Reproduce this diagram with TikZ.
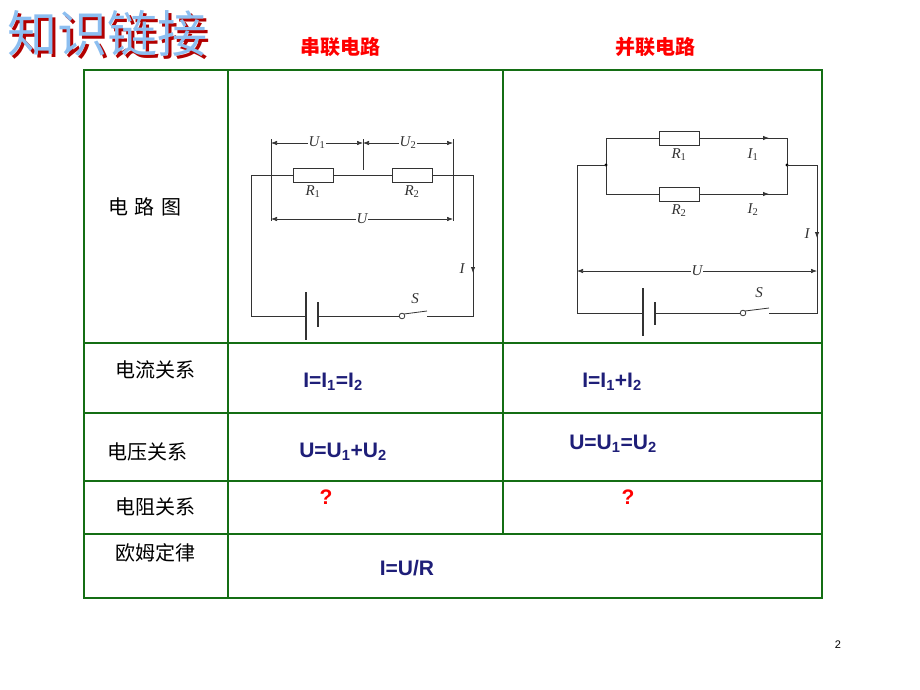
\documentclass[tikz,border=0pt]{standalone}
\usepackage{fontspec}
\setmainfont{Liberation Sans}
\newfontfamily\cjk{Noto Sans CJK SC}
\newfontfamily\serifit{Liberation Serif}[ItalicFont=* Italic]
\usetikzlibrary{arrows.meta}
\definecolor{gridgreen}{RGB}{20,110,20}
\definecolor{navy}{RGB}{30,30,120}
\definecolor{titleblue}{RGB}{140,190,240}
\tikzset{
  grid/.style={gridgreen, line width=2.2pt},
  rowlab/.style={font=\cjk\fontsize{20}{20}\selectfont},
  head/.style={font=\cjk\bfseries\fontsize{20}{20}\selectfont, text=red},
  law/.style={font=\bfseries\fontsize{21}{21}\selectfont, text=navy},
  wire/.style={line width=0.8pt, black!80},
  res/.style={draw, line width=1pt, black!80, minimum width=40pt, minimum height=14pt, inner sep=0pt},
  lab/.style={font=\serifit\itshape\fontsize{15}{15}\selectfont, text=black!80, inner sep=1pt},
  dim/.style={wire, line width=0.6pt, {Latex[length=6pt]}-{Latex[length=6pt]}}
}
\newcommand{\sbs}[1]{\textsubscript{#1}}
\newcommand{\lsb}[1]{\textsubscript{\upshape #1}}
\begin{document}
\begin{tikzpicture}[x=1pt,y=-1pt]
  \useasboundingbox (0,0) rectangle (920,690);

  % title
  \node[font=\cjk\fontsize{50}{50}\selectfont, text=red!70!black, inner sep=0pt] (tsh) at (110,36) {知识链接};
  \node[font=\cjk\fontsize{50}{50}\selectfont, text=titleblue, inner sep=0pt] (title) at (107,33) {知识链接};

  % table
  \draw[grid] (84,70) rectangle (822,598);
  \foreach \y in {343,413,481,534} \draw[grid] (84,\y) -- (822,\y);
  \draw[grid] (228,70) -- (228,598);
  \draw[grid] (503,70) -- (503,534);

  \node[head] (ser) at (340,47) {串联电路};
  \node[head] (par) at (655,47) {并联电路};

  \node[rowlab] at (145,207) {电\,\,路\,\,图};
  \node[rowlab] at (155,370) {电流关系};
  \node[rowlab] at (147,452) {电压关系};
  \node[rowlab] at (155,507) {电阻关系};
  \node[rowlab] at (155,553) {欧姆定律};

  \node[law] at (333,382) {I=I\sbs{1}=I\sbs{2}};
  \node[law] at (612,382) {I=I\sbs{1}+I\sbs{2}};
  \node[law] at (343,452) {U=U\sbs{1}+U\sbs{2}};
  \node[law] at (613,444) {U=U\sbs{1}=U\sbs{2}};
  \node[law, text=red] at (326,497) {?};
  \node[law, text=red] at (628,497) {?};
  \node[law] at (407,568) {I=U/R};
  \node[font=\fontsize{11}{11}\selectfont] at (838,645) {2};

  % series circuit
  \node[res] (r1) at (313,175) {};
  \node[res] (r2) at (412,175) {};
  \coordinate (sa) at (251,175);
  \coordinate (sb) at (473,175);
  \coordinate (sc) at (473,316);
  \coordinate (sd) at (251,316);
  \draw[wire] (r1.west) -- (sa) -- (sd) -- (306,316);
  \draw[wire] (r1.east) -- (r2.west);
  \draw[wire] (r2.east) -- (sb) -- (sc) -- (427,316);
  \draw[wire, line width=1.2pt] (306,292) -- (306,340);
  \draw[wire, line width=2.5pt] (318,302) -- (318,327);
  \draw[wire] (318,316) -- (399,316);
  \draw[wire, fill=white] (402,316) circle (2.8pt);
  \draw[wire] (404,314) -- (427,311);
  \node[lab] at (415,299) {S};
  \node[lab] at (462,269) {I};
  \draw[wire, -{Latex[length=6pt]}] (473,262) -- (473,273);
  \draw[wire, line width=0.5pt] (271,139) -- (271,221) (363,139) -- (363,170) (453,139) -- (453,221);
  \draw[dim] (271,143) -- (363,143) node[midway, lab, fill=white] {U\lsb{1}};
  \draw[dim] (363,143) -- (453,143) node[midway, lab, fill=white] {U\lsb{2}};
  \draw[dim] (271,219) -- (453,219) node[midway, lab, fill=white] {U};
  \node[lab, below=2pt] at (r1.south) {R\lsb{1}};
  \node[lab, below=2pt] at (r2.south) {R\lsb{2}};

  % parallel circuit
  \node[res] (p1) at (679,138) {};
  \node[res] (p2) at (679,194) {};
  \coordinate (ja) at (606,165);
  \coordinate (jb) at (787,165);
  \draw[wire] (ja) -- (606,138) -- (p1.west) (p1.east) -- (787,138) -- (jb);
  \draw[wire] (ja) -- (606,194) -- (p2.west) (p2.east) -- (787,194) -- (jb);
  \fill (ja) circle (1.6pt) (jb) circle (1.6pt);
  \draw[wire] (ja) -- (577,165) -- (577,313) -- (643,313);
  \draw[wire] (jb) -- (817,165) -- (817,313) -- (769,313);
  \draw[wire, line width=1.2pt] (643,288) -- (643,336);
  \draw[wire, line width=2.5pt] (655,302) -- (655,325);
  \draw[wire] (655,313) -- (740,313);
  \draw[wire, fill=white] (743,313) circle (2.8pt);
  \draw[wire] (745,311) -- (769,308);
  \node[lab] at (759,293) {S};
  \draw[wire, -{Latex[length=6pt]}] (750,138) -- (769,138);
  \draw[wire, -{Latex[length=6pt]}] (750,194) -- (769,194);
  \node[lab] at (753,155) {I\lsb{1}};
  \node[lab] at (753,210) {I\lsb{2}};
  \node[lab] at (807,234) {I};
  \draw[wire, -{Latex[length=6pt]}] (817,227) -- (817,238);
  \node[lab, below=2pt] at (p1.south) {R\lsb{1}};
  \node[lab, below=2pt] at (p2.south) {R\lsb{2}};
  \draw[dim] (577,271) -- (817,271) node[midway, lab, fill=white] {U};
\end{tikzpicture}
\end{document}
